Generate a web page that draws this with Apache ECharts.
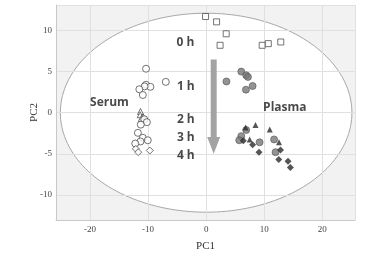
<!DOCTYPE html>
<html><head><meta charset="utf-8">
<script src="https://cdn.jsdelivr.net/npm/echarts@6/dist/echarts.min.js"></script>
<style>html,body{margin:0;padding:0;background:#fff}#c{width:376px;height:257px}</style>
</head><body><div id="c"></div>
<script>
const xTicks = [-20, -10, 0, 10, 20];
const yTicks = [-10, -5, 0, 5, 10];
const squares0h = [[-0.1,11.7],[1.8,11.05],[3.45,9.6],[2.4,8.2],[9.65,8.2],[10.7,8.4],[12.85,8.6]];
const serum1h = [[-10.35,5.35],[-6.95,3.75],[-10.35,3.4],[-9.6,3.15],[-10.6,3.2],[-11.5,2.85],[-10.9,2.15]];
const serum2h = [[-11.3,0.15],[-11.35,-0.25],[-10.85,-0.5],[-11.15,-0.7]];
const serum2hCirc = [[-10.65,-0.8],[-10.2,-1.15],[-11.25,-1.45]];
const serum3h = [[-11.75,-2.45],[-10.9,-3.05],[-10.05,-3.35],[-11.3,-3.5],[-12.2,-3.75]];
const serum4h = [[-12.1,-4.4],[-11.7,-4.8],[-9.7,-4.6]];
const plasma1h = [[6.05,5.0],[6.9,4.55],[7.2,4.35],[3.5,3.8],[6.85,2.8],[8.0,3.25]];
const plasma2h = [[6.8,-1.8],[8.5,-1.5],[10.95,-2.05],[12.55,-3.6],[7.5,-3.25]];
const plasma3h = [[6.9,-2.1],[6.05,-2.85],[5.7,-3.35],[9.2,-3.6],[11.7,-3.25],[11.95,-4.8]];
const plasma4h = [[6.4,-3.4],[8.0,-3.9],[9.1,-4.8],[12.8,-4.55],[12.5,-5.7],[14.1,-5.9],[14.5,-6.65]];
const timeLabels = ['0 h', '1 h', '2 h', '3 h', '4 h'];
const timeLabelPos = [[-3.55,8.55],[-3.5,3.2],[-3.5,-0.78],[-3.5,-3.05],[-3.5,-5.2]];
const groupLabels = ['Serum', 'Plasma'];
const groupLabelPos = [[-16.65,1.2],[13.55,0.6]];
const ellipseAxes = [25.1, 12.1];
const arrowData = [[1.3, 6.47, -2.95, -5.0]];

const chart = echarts.init(document.getElementById('c'), null, {renderer: 'canvas'});
const openStyle = {color: '#fff', borderColor: '#505050', borderWidth: 1};
function sc(data, symbol, size, style) {
  return {type: 'scatter', z: 3, data: data, symbol: symbol, symbolSize: size, itemStyle: style, silent: true};
}
const txtData = timeLabels.map((t, i) => ({name: t, value: timeLabelPos[i]}))
  .concat(groupLabels.map((t, i) => ({name: t, value: groupLabelPos[i]})));
chart.setOption({
  animation: false,
  grid: {left: 56, right: 21, top: 5, bottom: 32, show: true, backgroundColor: '#f2f2f2', borderWidth: 0},
  xAxis: {
    type: 'value', min: -25.85, max: 25.63, splitNumber: 5, z: 2,
    axisLine: {show: true, onZero: false, lineStyle: {color: '#c8c8c8', width: 1}},
    axisTick: {show: false},
    axisLabel: {fontFamily: 'Liberation Serif', fontSize: 9, color: '#444', margin: 5,
      showMinLabel: false, showMaxLabel: false,
      formatter: v => xTicks.includes(v) ? String(v) : ''},
    splitLine: {show: true, lineStyle: {color: '#e0e0e0', width: 1}},
    name: 'PC1', nameLocation: 'middle', nameGap: 21, nameMoveOverlap: false,
    nameTextStyle: {fontFamily: 'Liberation Serif', fontSize: 11, color: '#333'}
  },
  yAxis: {
    type: 'value', min: -13.05, max: 13.1, splitNumber: 5, z: 2,
    axisLine: {show: true, onZero: false, lineStyle: {color: '#c8c8c8', width: 1}},
    axisTick: {show: false},
    axisLabel: {fontFamily: 'Liberation Serif', fontSize: 9, color: '#444', margin: 4,
      showMinLabel: false, showMaxLabel: false,
      formatter: v => yTicks.includes(v) ? String(v) : ''},
    splitLine: {show: true, lineStyle: {color: '#e0e0e0', width: 1}},
    name: 'PC2', nameLocation: 'middle', nameGap: 16, nameMoveOverlap: false,
    nameTextStyle: {fontFamily: 'Liberation Serif', fontSize: 11, color: '#333'}
  },
  series: [
    {type: 'custom', z: 1, silent: true, data: [[0, 0]],
      renderItem: function (params, api) {
        const pts = [];
        for (let i = 0; i <= 180; i++) {
          const t = i / 180 * 2 * Math.PI;
          pts.push(api.coord([api.value(0) + ellipseAxes[0] * Math.cos(t), api.value(1) + ellipseAxes[1] * Math.sin(t)]));
        }
        return {type: 'polygon', shape: {points: pts}, style: {fill: '#ffffff', stroke: '#a8a8a8', lineWidth: 1}};
      }},
    {type: 'custom', z: 3, silent: true, data: arrowData,
      renderItem: function (params, api) {
        const top = api.coord([api.value(0), api.value(1)]);
        const base = api.coord([api.value(0), api.value(2)]);
        const tip = api.coord([api.value(0), api.value(3)]);
        const cx = top[0], sw = 3, hw = 6.5;
        return {type: 'polygon', shape: {points: [[cx - sw, top[1]], [cx + sw, top[1]], [cx + sw, base[1]], [cx + hw, base[1]], [cx, tip[1]], [cx - hw, base[1]], [cx - sw, base[1]]]},
          style: {fill: '#a3a3a3'}};
      }},
    sc(squares0h, 'rect', 6, openStyle),
    sc(serum1h, 'circle', 7, openStyle),
    sc(serum2h, 'triangle', 6, openStyle),
    sc(serum2hCirc, 'circle', 7, openStyle),
    sc(serum3h, 'circle', 7, openStyle),
    sc(serum4h, 'diamond', 7, openStyle),
    sc(plasma1h, 'circle', 7, {color: '#787878', borderColor: '#555', borderWidth: 0.8}),
    sc(plasma3h, 'circle', 7, {color: '#787878', borderColor: '#555', borderWidth: 0.8}),
    sc(plasma2h, 'triangle', 6, {color: '#2a2a2a'}),
    sc(plasma4h, 'diamond', 7, {color: '#2a2a2a'}),
    {type: 'scatter', z: 4, silent: true, symbolSize: 0, data: txtData,
      label: {show: true, position: 'inside', formatter: p => p.name,
        fontFamily: 'Open Sans', fontWeight: 'bold', fontSize: 12, color: '#1a1a1a'}}
  ]
});
</script></body></html>
